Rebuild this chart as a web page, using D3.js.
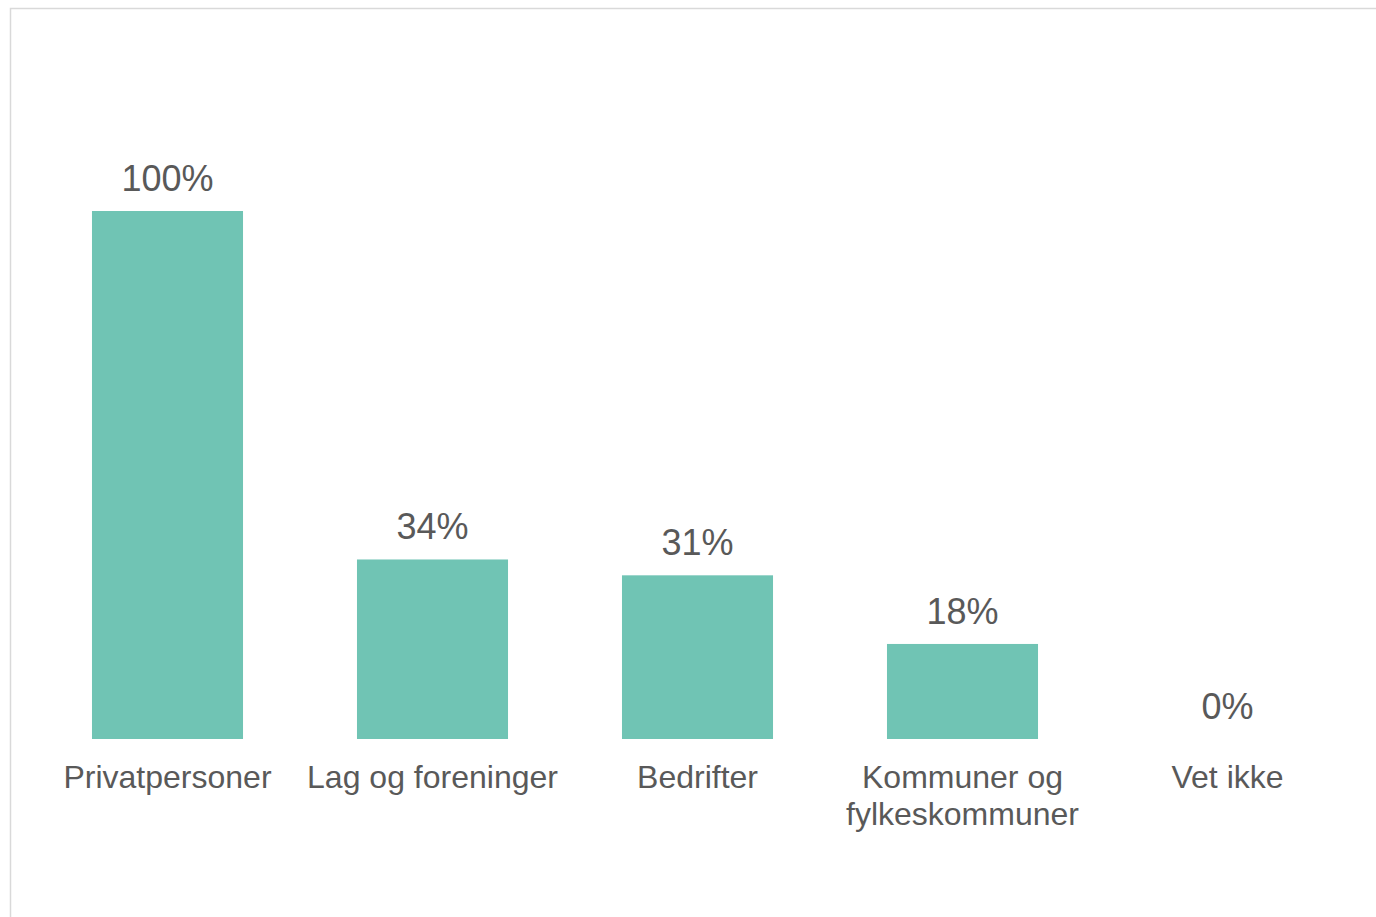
<!DOCTYPE html>
<html>
<head>
<meta charset="utf-8">
<script src="https://cdn.jsdelivr.net/npm/d3@7"></script>
<style>
  html, body { margin: 0; padding: 0; background: #fff; overflow: hidden; }
  text { font-family: "Liberation Sans", Arial, sans-serif; fill: #595959; }
</style>
</head>
<body>
<div id="chart"></div>
<script>
// data
var categories = ["Privatpersoner", "Lag og foreninger", "Bedrifter", "Kommuner og fylkeskommuner", "Vet ikke"];
var shares = [1.00, 0.34, 0.31, 0.18, 0.00];
var labels = ["100%", "34%", "31%", "18%", "0%"];

var width = 1376, height = 917;

var svg = d3.select("#chart")
  .append("svg")
  .attr("width", width)
  .attr("height", height);

// frame of the chart area (runs off the right and bottom edge)
svg.append("rect")
  .attr("x", 10.5)
  .attr("y", 8.5)
  .attr("width", 1500)
  .attr("height", 1000)
  .attr("fill", "none")
  .attr("stroke", "#d9d9d9")
  .attr("stroke-width", 1.5);

var x = d3.scaleBand()
  .domain(categories)
  .range([35, 1360])
  .paddingInner(0.43)
  .paddingOuter(0.215);

var y = d3.scaleLinear()
  .domain([0, 1])
  .range([739, 211]);

var rows = categories.map(function(c, i) {
  return { name: c, value: shares[i], label: labels[i] };
});

svg.selectAll(".bar")
  .data(rows)
  .enter()
  .append("rect")
  .attr("class", "bar")
  .attr("x", function(d) { return x(d.name); })
  .attr("y", function(d) { return y(d.value); })
  .attr("width", x.bandwidth())
  .attr("height", function(d) { return y(0) - y(d.value); })
  .attr("fill", "#70c4b4");

// value labels above bars
svg.selectAll(".value")
  .data(rows)
  .enter()
  .append("text")
  .attr("class", "value")
  .attr("x", function(d) { return x(d.name) + x.bandwidth() / 2; })
  .attr("y", function(d) { return y(d.value) - 20; })
  .attr("text-anchor", "middle")
  .style("font-size", "36px")
  .text(function(d) { return d.label; });

// category labels, wrapped to the band step
var cats = svg.selectAll(".cat")
  .data(rows)
  .enter()
  .append("text")
  .attr("class", "cat")
  .attr("x", function(d) { return x(d.name) + x.bandwidth() / 2; })
  .attr("y", 788)
  .attr("text-anchor", "middle")
  .style("font-size", "32px");

cats.each(function(d) {
  var el = d3.select(this);
  var words = d.name.split(" ");
  var maxW = x.step() - 8;
  var line = [];
  var cx = x(d.name) + x.bandwidth() / 2;
  var tspan = el.append("tspan").attr("x", cx).attr("dy", 0);
  words.forEach(function(w) {
    line.push(w);
    tspan.text(line.join(" "));
    if (tspan.node().getComputedTextLength() > maxW && line.length > 1) {
      line.pop();
      tspan.text(line.join(" "));
      line = [w];
      tspan = el.append("tspan").attr("x", cx).attr("dy", 37).text(w);
    }
  });
});
</script>
</body>
</html>
